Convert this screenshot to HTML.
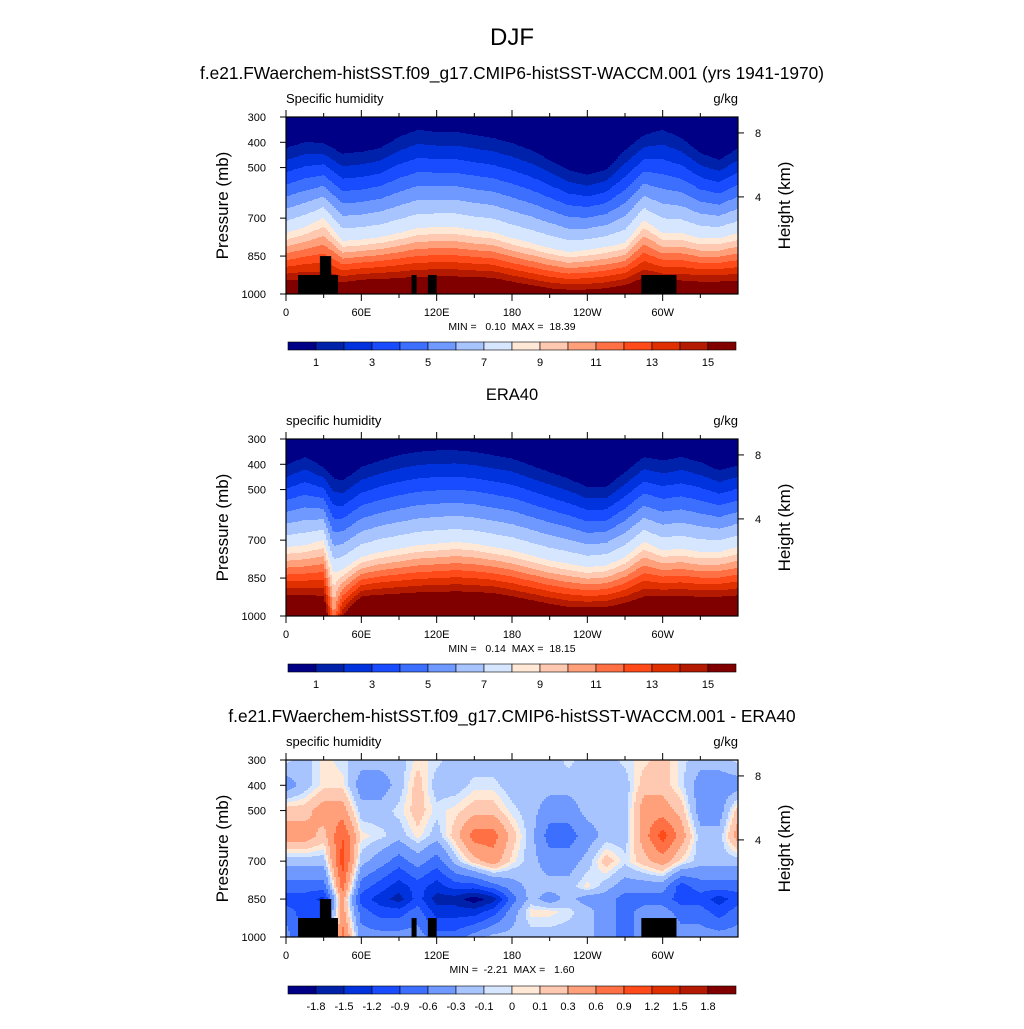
<!DOCTYPE html>
<html><head><meta charset="utf-8"><style>
body{margin:0;background:#fff;}
svg text{font-family:"Liberation Sans",Arial,sans-serif;fill:#000;}
.pre{white-space:pre;}
</style></head><body>
<svg id="fig" xmlns="http://www.w3.org/2000/svg" width="1024" height="1024" viewBox="0 0 1024 1024">
<rect width="1024" height="1024" fill="#fff"/>
<text x="512" y="45" font-size="24" text-anchor="middle">DJF</text>
<text x="512" y="79" font-size="17.3" text-anchor="middle">f.e21.FWaerchem-histSST.f09_g17.CMIP6-histSST-WACCM.001 (yrs 1941-1970)</text>
<text x="512" y="400" font-size="16.5" text-anchor="middle">ERA40</text>
<text x="512" y="722" font-size="17.3" text-anchor="middle">f.e21.FWaerchem-histSST.f09_g17.CMIP6-histSST-WACCM.001 - ERA40</text>
<g id="layer"></g>
</svg>
<script>
// ---- data ----
const colors = ["#000086","#0022aa","#0033dd","#1a4cff","#3d6fff","#7099ff","#a8c4ff","#d6e6ff","#ffe8d6","#ffc8b0","#ffa07a","#ff7044","#ff4a1a","#e03000","#b31a00","#800000"];
const levelsQ = [1,2,3,4,5,6,7,8,9,10,11,12,13,14,15];
const levelsD = [-1.8,-1.5,-1.2,-0.9,-0.6,-0.3,-0.1,0,0.1,0.3,0.6,0.9,1.2,1.5,1.8];
const labelsQ = ["1","","3","","5","","7","","9","","11","","13","","15"];
const labelsD = ["-1.8","-1.5","-1.2","-0.9","-0.6","-0.3","-0.1","0","0.1","0.3","0.6","0.9","1.2","1.5","1.8"];
const xTickLons = [0,60,120,180,240,300];
const xTickLabels = ["0","60E","120E","180","120W","60W"];
const xMinorLons = [30,90,150,210,270,330];
const pTicks = [300,400,500,700,850,1000];
const hTickP = [363,616];
const hTickLabels = ["8","4"];

// panel 1 model
const lon1 = [0,15,30,45,60,75,90,105,120,135,150,165,180,195,210,225,240,255,270,285,300,315,330,345,360];
const p1Model = [423,399,403,445,438,423,379,351,359,359,371,383,403,431,470,510,529,510,431,371,351,383,442,470,423];
const p8Model = [759,735,699,790,785,775,759,739,735,735,747,755,779,798,818,834,826,814,798,707,759,759,779,779,759];
const qsModel = [17,17,16.5,17,17.5,17.5,17.5,17.5,17.5,17.5,17.5,17.5,17,16.5,16,15.8,15.8,16,16.5,17,17,17,17,17,17];
// panel 2 ERA40
const lon2 = [0,15,30,38,45,60,75,90,105,120,135,150,165,180,195,210,225,240,255,270,285,300,315,330,345,360];
const p1Obs = [404,371,411,455,465,411,385,364,351,345,345,351,364,377,404,431,457,490,490,431,371,385,371,391,424,404];
const p8Obs = [727,720,700,830,815,767,747,734,720,714,707,714,727,740,760,780,793,807,800,767,707,740,734,747,747,727];
const qsObs = [18,18,17.5,11,15,18.5,18.5,18.5,18.5,18.5,18.5,18.5,18.5,18,17.5,17,16.5,16.5,16.5,17,17.5,18,18,18,18,18];
// panel 3 difference grid
const lon3 = [0,15,30,45,60,75,90,105,120,135,150,165,180,195,210,225,240,255,270,285,300,315,330,345,360];
const pLev3 = [300,400,500,600,700,800,850,900,1000];
const diffCols = [
[-0.05,-0.45,0.2,0.45,-0.2,-0.75,-1.05,-0.75,-0.45],
[-0.2,-0.2,0.2,0.45,-0.2,-0.75,-1.05,-1.05,-1],
[0.05,0.05,0.45,0.2,-0.2,-0.75,-1.3,-1,-1],
[-0.05,0.05,0.45,0.9,1.05,0.75,0.45,0.45,0.75],
[-0.2,-0.45,-0.2,0.05,-0.2,-0.75,-1.05,-0.75,-0.45],
[-0.2,-0.45,-0.2,-0.05,-0.45,-1.05,-1.35,-1.05,-0.45],
[-0.2,-0.2,-0.05,-0.2,-0.75,-1.35,-1.65,-1.05,-0.45],
[0.05,0.2,0.2,0.05,-0.45,-1.05,-1.05,-0.75,-0.45],
[-0.05,-0.2,-0.05,-0.2,-0.75,-1.35,-1.65,-1.35,-0.75],
[-0.2,-0.2,0.05,0.2,-0.2,-1.05,-1.65,-1.35,-0.75],
[-0.2,-0.05,0.2,0.75,0.2,-1.05,-2,-1.35,-0.45],
[-0.2,-0.05,0.2,0.75,0.45,-0.75,-1.65,-1.05,-0.2],
[-0.2,-0.2,-0.05,0.2,0.05,-0.45,-0.75,-0.45,-0.2],
[-0.2,-0.2,-0.2,-0.2,-0.2,-0.2,-0.2,0.05,-0.2],
[-0.2,-0.2,-0.45,-0.75,-0.45,-0.2,-0.45,0.05,-0.2],
[-0.05,-0.2,-0.45,-0.75,-0.45,-0.2,-0.2,-0.05,-0.2],
[-0.2,-0.2,-0.2,-0.45,-0.2,0.05,-0.45,-0.2,-0.2],
[-0.2,-0.2,-0.2,-0.2,0.2,-0.2,-0.45,-0.45,-0.45],
[-0.05,-0.2,-0.2,-0.2,-0.05,-0.45,-0.75,-0.75,-0.75],
[0.05,0.2,0.45,0.45,0.2,-0.45,-0.75,-0.45,-0.45],
[0.2,0.2,0.45,1.05,0.45,-0.45,-0.75,-0.45,-0.2],
[-0.05,-0.05,0.2,0.45,0.05,-1.05,-1.05,-0.75,-0.45],
[-0.2,-0.45,-0.45,-0.2,-0.2,-0.75,-1.05,-0.75,-0.45],
[-0.2,-0.45,-0.45,-0.2,-0.2,-0.75,-1.35,-1.05,-0.45],
[-0.05,-0.45,0.2,0.45,-0.2,-0.75,-1.05,-0.75,-0.45]];
// terrain mask boxes: [lonStart, lonEnd, pressureTop]
const terrainLon0 = [9.6,27,100,113,283];
const terrainLon1 = [41.4,36,104,120,311];
const terrainPTop = [925,850,925,925,925];

// ---- geometry ----
const PX = 286, PW = 452, PH = 177;
const panelTops = [117,439,760];
const xs = lon => PX + lon/360*PW;
const ys = (top,p) => top + (p-300)/700*PH;
const NS = "http://www.w3.org/2000/svg";
const layer = document.getElementById('layer');
function el(tag, attrs, parent){const e=document.createElementNS(NS,tag);for(const k in attrs)e.setAttribute(k,attrs[k]);(parent||layer).appendChild(e);return e;}
function interp(xa, ya, x){for(let i=0;i<xa.length-1;i++){if(x<=xa[i+1]){const t=(x-xa[i])/(xa[i+1]-xa[i]);return ya[i]+t*(ya[i+1]-ya[i]);}}return ya[ya.length-1];}
function qField(lonA,p1A,p8A,qsA,lon,p){
  const a=interp(lonA,p1A,lon),b=interp(lonA,p8A,lon),s=interp(lonA,qsA,lon);
  if(p<=a) return p/a;
  if(p<=b) return 1+7*(p-a)/(b-a);
  return 8+(s-8)*(p-b)/(1000-b);
}
function dField(lon,p){
  const col = lon3.map((l,i)=>interp(pLev3,diffCols[i],p));
  return interp(lon3,col,lon);
}
function idx(levels,v){let k=0;while(k<levels.length&&v>=levels[k])k++;return k;}

function drawField(top, fn, levels, name){
  const g = el('g',{});
  
  
  const step=2;
  for(let cx=0;cx<PW;cx+=step){
    const lon=(cx+step/2)/PW*360;
    let runStart=0, runC=-1;
    for(let r=0;r<=PH;r++){
      let c=-2;
      if(r<PH){const p=300+(r+0.5)/PH*700;c=idx(levels,fn(lon,p));}
      if(c!==runC){
        if(runC>=0){const rc=el('rect',{x:PX+cx,y:top+runStart,width:step+0.4,height:r-runStart+0.4,fill:colors[runC]},g);
          
          }
        runStart=r;runC=c;
      }
    }
  }
}
function drawTerrain(top){
  for(let i=0;i<terrainLon0.length;i++){
    const y0=ys(top,terrainPTop[i]);
    const r=el('rect',{x:xs(terrainLon0[i]),y:y0,width:xs(terrainLon1[i])-xs(terrainLon0[i]),height:top+PH-y0,fill:'#000'});
    
    
  }
}
function drawAxes(top, lt, minmax){
  const f=el('rect',{x:PX,y:top,width:PW,height:PH,fill:'none',stroke:'#000','stroke-width':1.2});
  
  
  xTickLons.forEach((l,i)=>{const x=xs(l);
    el('line',{x1:x,x2:x,y1:top+PH,y2:top+PH+7,stroke:'#000'});
    el('line',{x1:x,x2:x,y1:top,y2:top-7,stroke:'#000'});
    const t=el('text',{x:x,y:top+PH+22,'font-size':11,'text-anchor':'middle'});t.textContent=xTickLabels[i];
    
    });
  xMinorLons.forEach(l=>{const x=xs(l);
    el('line',{x1:x,x2:x,y1:top+PH,y2:top+PH+4,stroke:'#000'});
    el('line',{x1:x,x2:x,y1:top,y2:top-4,stroke:'#000'});});
  pTicks.forEach(p=>{const y=ys(top,p);
    el('line',{x1:PX-6,x2:PX,y1:y,y2:y,stroke:'#000'});
    const t=el('text',{x:266,y:y+4,'font-size':11,'text-anchor':'end'});t.textContent=p;
    
    });
  hTickP.forEach((p,i)=>{const y=ys(top,p);
    el('line',{x1:PX+PW,x2:PX+PW+6,y1:y,y2:y,stroke:'#000'});
    const t=el('text',{x:755,y:y+4,'font-size':11});t.textContent=hTickLabels[i];
    
    });
  const cy=top+PH/2;
  const yt=el('text',{x:0,y:0,'font-size':17,'text-anchor':'middle',transform:`translate(228,${cy}) rotate(-90)`});yt.textContent='Pressure (mb)';
  
  
  const ht=el('text',{x:0,y:0,'font-size':17,'text-anchor':'middle',transform:`translate(790,${cy}) rotate(-90)`});ht.textContent='Height (km)';
  
  
  const l=el('text',{x:PX,y:top-14,'font-size':13});l.textContent=lt;
  
  
  const u=el('text',{x:PX+PW,y:top-14,'font-size':13,'text-anchor':'end'});u.textContent='g/kg';
  
  
  const m=el('text',{x:512,y:top+PH+36,'font-size':10.5,'text-anchor':'middle','class':'pre'});m.textContent=minmax;
  
  
}
function drawColorbar(y, labels){
  const x0=288,w=448/16;
  colors.forEach((c,i)=>{const r=el('rect',{x:x0+i*w,y:y,width:w,height:8,fill:c,stroke:'#000','stroke-width':0.6});
    
    });
  labels.forEach((s,i)=>{if(!s)return;const t=el('text',{x:x0+(i+1)*w,y:y+24,'font-size':11,'text-anchor':'middle'});t.textContent=s;
    
    });
}

drawField(panelTops[0],(lon,p)=>qField(lon1,p1Model,p8Model,qsModel,lon,p),levelsQ,'model-humidity-field');
drawTerrain(panelTops[0]);
drawAxes(panelTops[0],'Specific humidity','MIN =   0.10  MAX =  18.39');
drawColorbar(342,labelsQ);

drawField(panelTops[1],(lon,p)=>qField(lon2,p1Obs,p8Obs,qsObs,lon,p),levelsQ,'era40-humidity-field');
drawAxes(panelTops[1],'specific humidity','MIN =   0.14  MAX =  18.15');
drawColorbar(664,labelsQ);

drawField(panelTops[2],dField,levelsD,'difference-field');
drawTerrain(panelTops[2]);
drawAxes(panelTops[2],'specific humidity','MIN =  -2.21  MAX =   1.60');
drawColorbar(986,labelsD);
</script>
</body></html>
